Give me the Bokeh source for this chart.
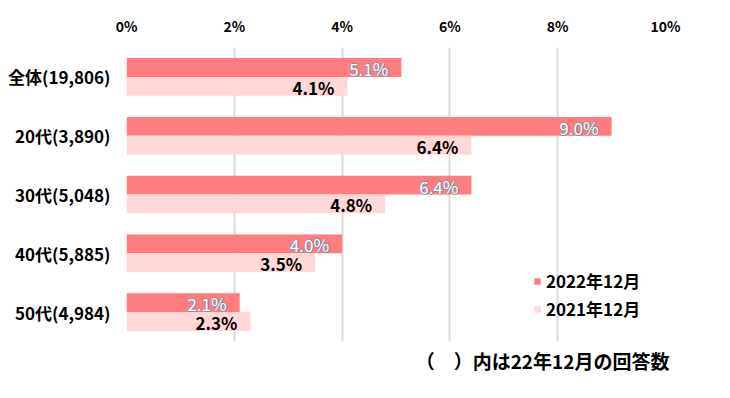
from bokeh.plotting import figure
from bokeh.models import ColumnDataSource, FactorRange, Legend, LegendItem, Title, FixedTicker
from bokeh.transform import dodge
from bokeh.core.properties import value
from bokeh.embed import file_html
from bokeh.resources import INLINE

categories = ["全体(19,806)", "20代(3,890)", "30代(5,048)", "40代(5,885)", "50代(4,984)"]
v2022 = [5.1, 9.0, 6.4, 4.0, 2.1]
v2021 = [4.1, 6.4, 4.8, 3.5, 2.3]
series_names = ["2022年12月", "2021年12月"]
x_ticks = [0, 2, 4, 6, 8, 10]
note = "（　）内は22年12月の回答数"

FONT = "Noto Sans CJK JP"
C22 = "#FF7C80"
C21 = "#FFD7D7"

src = ColumnDataSource(dict(
    cat=categories, v22=v2022, v21=v2021,
    l22=[f"{v:.1f}%" for v in v2022],
    l21=[f"{v:.1f}%" for v in v2021],
))

p = figure(width=722, height=382, output_backend="svg", toolbar_location=None,
           y_range=FactorRange(*reversed(categories), range_padding=0),
           x_range=(0, 10), x_axis_location="above",
           min_border_left=126, min_border_right=57, min_border_top=47, min_border_bottom=41)
p.outline_line_color = None
p.background_fill_color = "white"

r22 = p.hbar(y=dodge("cat", 0.16, range=p.y_range), right="v22", left=0, height=0.32,
             source=src, fill_color=C22, line_color=None)
r21 = p.hbar(y=dodge("cat", -0.16, range=p.y_range), right="v21", left=0, height=0.32,
             source=src, fill_color=C21, line_color=None)

# 2022 labels: outlined (hollow) look
for dx, dy in [(-1, 0), (1, 0), (0, -1), (0, 1)]:
    p.text(x="v22", y=dodge("cat", 0.16, range=p.y_range), text="l22", source=src,
           x_offset=-13 + dx, y_offset=1 + dy, text_align="right", text_baseline="middle",
           text_font=value(FONT), text_font_size="17px", text_color="#8c8ca0")
p.text(x="v22", y=dodge("cat", 0.16, range=p.y_range), text="l22", source=src,
       x_offset=-13, y_offset=1, text_align="right", text_baseline="middle",
       text_font=value(FONT), text_font_size="17px", text_color="white")

p.text(x="v21", y=dodge("cat", -0.16, range=p.y_range), text="l21", source=src,
       x_offset=-13, y_offset=1, text_align="right", text_baseline="middle",
       text_font=value(FONT), text_font_size="17px", text_font_style="bold", text_color="black")

# axes
xa = p.xaxis[0]
xa.ticker = FixedTicker(ticks=x_ticks)
xa.major_label_overrides = {t: f"{t}%" for t in x_ticks}
xa.axis_line_color = None
xa.major_tick_line_color = None
xa.minor_tick_line_color = None
xa.major_tick_out = 0
xa.major_label_standoff = 12
xa.major_label_text_font = FONT
xa.major_label_text_font_size = "14px"
xa.major_label_text_font_style = "bold"
xa.major_label_text_color = "black"

ya = p.yaxis[0]
ya.axis_line_color = None
ya.major_tick_line_color = None
ya.minor_tick_line_color = None
ya.major_tick_out = 0
ya.major_label_standoff = 16
ya.major_label_text_font = FONT
ya.major_label_text_font_size = "17px"
ya.major_label_text_font_style = "bold"
ya.major_label_text_color = "black"

p.xgrid.grid_line_color = "#d9d9d9"
p.xgrid.grid_line_width = 2
p.xgrid.ticker = FixedTicker(ticks=x_ticks)
p.ygrid.grid_line_color = None

legend = Legend(items=[LegendItem(label=series_names[0], renderers=[r22]),
                       LegendItem(label=series_names[1], renderers=[r21])],
                location=(407, 20), padding=0, margin=0, spacing=3,
                glyph_width=8, glyph_height=8, label_height=20, label_standoff=5,
                label_text_font=FONT, label_text_font_size="17px", label_text_font_style="bold",
                label_text_color="black",
                background_fill_alpha=0, border_line_color=None)
p.add_layout(legend)

p.add_layout(Title(text=note, align="right", offset=-4, standoff=6,
                   text_font=FONT, text_font_size="19px", text_font_style="bold",
                   text_color="black"), "below")

open("out.html", "w").write(file_html(p, INLINE))
